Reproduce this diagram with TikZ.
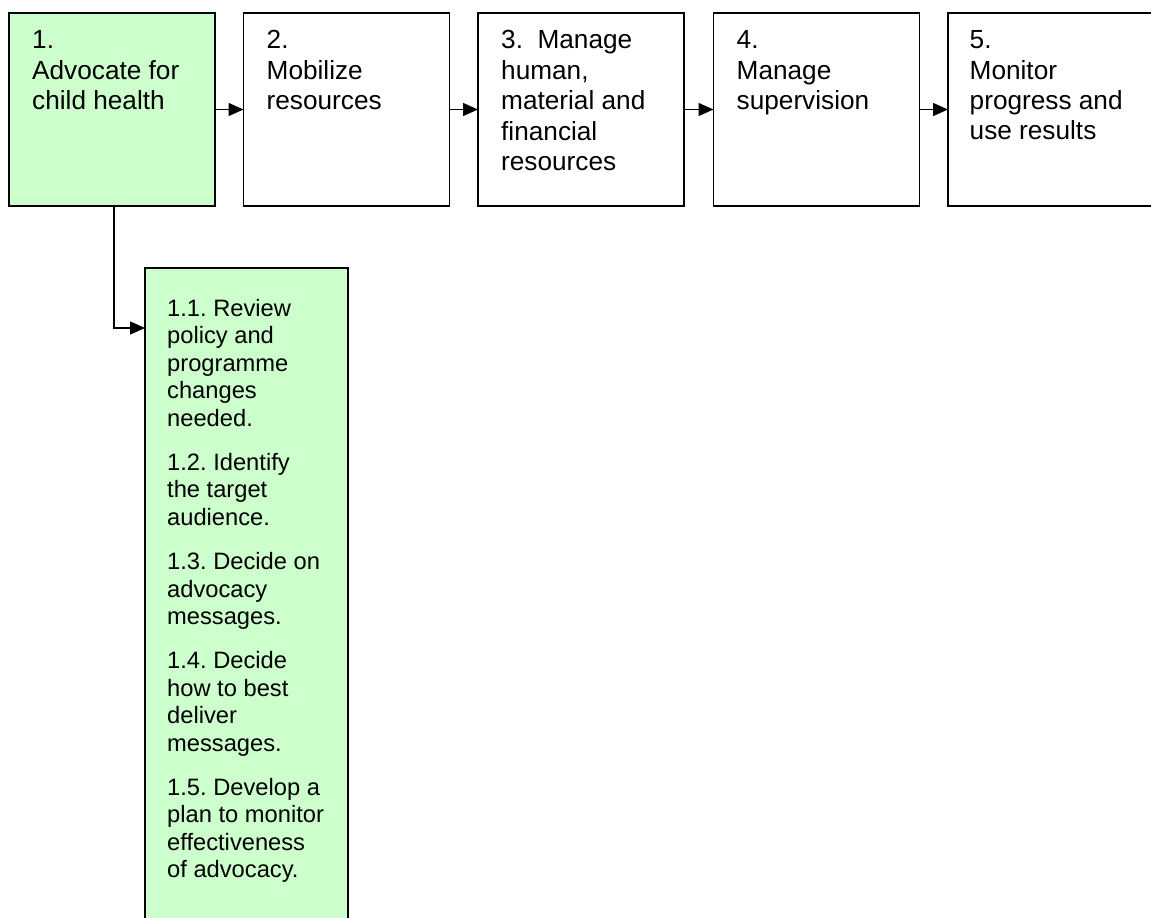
\documentclass[tikz,border=0pt]{standalone}
\usepackage{fontspec}
\setmainfont{Liberation Sans}
\usetikzlibrary{arrows.meta,calc}
\definecolor{boxgreen}{RGB}{204,255,204}
\begin{document}
\frenchspacing
\begin{tikzpicture}[x=1pt,y=-1pt,
  stepbox/.style={draw=black,line width=1.3pt,minimum width=206pt,minimum height=193pt,inner sep=0pt,outer sep=0pt,anchor=north west},
  toptext/.style={anchor=north west,inner sep=0pt,align=left,font=\fontsize{26.2}{30.4}\selectfont},
  subtext/.style={anchor=north west,inner sep=0pt,align=left,font=\fontsize{23.7}{27.4}\selectfont},
  conn/.style={line width=1.3pt,-{Triangle[length=15pt,width=13pt]}}
]
\useasboundingbox (0,0) rectangle (1151,918);
\clip (0,0) rectangle (1151,918);
% boxes
\node[stepbox,fill=boxgreen] (s1) at (9,13) {};
\node[stepbox] (s2) at (243.5,13) {};
\node[stepbox] (s3) at (478,13) {};
\node[stepbox] (s4) at (713.5,13) {};
\node[stepbox] (s5) at (948,13) {};
\node[stepbox,fill=boxgreen,minimum width=203pt,minimum height=700pt] (sub) at (145,268) {};
% texts
\node[toptext] (t1) at ($(s1.north west)+(23,17.5)$) {1.\\Advocate for\\child health};
\node[toptext] (t2) at ($(s2.north west)+(23,17.5)$) {2.\\Mobilize\\resources};
\node[toptext] (t3) at ($(s3.north west)+(23,17.5)$) {3.~~Manage\\human,\\material and\\financial\\resources};
\node[toptext] (t4) at ($(s4.north west)+(23,17.5)$) {4.\\Manage\\supervision};
\node[toptext] (t5) at ($(s5.north west)+(21.5,17.5)$) {5.\\Monitor\\progress and\\use results};
\node[subtext] (tsub) at ($(sub.north west)+(22,31.2)$) {1.1. Review\\policy and\\programme\\changes\\needed.\\[17pt]1.2. Identify\\the target\\audience.\\[17pt]1.3. Decide on\\advocacy\\messages.\\[17pt]1.4. Decide\\how to best\\deliver\\messages.\\[17pt]1.5. Develop a\\plan to monitor\\effectiveness\\of advocacy.};
% connectors
\draw[conn] (s1.east) -- (s2.west);
\draw[conn] (s2.east) -- (s3.west);
\draw[conn] (s3.east) -- (s4.west);
\draw[conn] (s4.east) -- (s5.west);
\coordinate (subin) at ($(sub.north west)+(0,60)$);
\draw[conn] ($(s1.south)+(2,0)$) |- (subin);
\end{tikzpicture}
\end{document}
